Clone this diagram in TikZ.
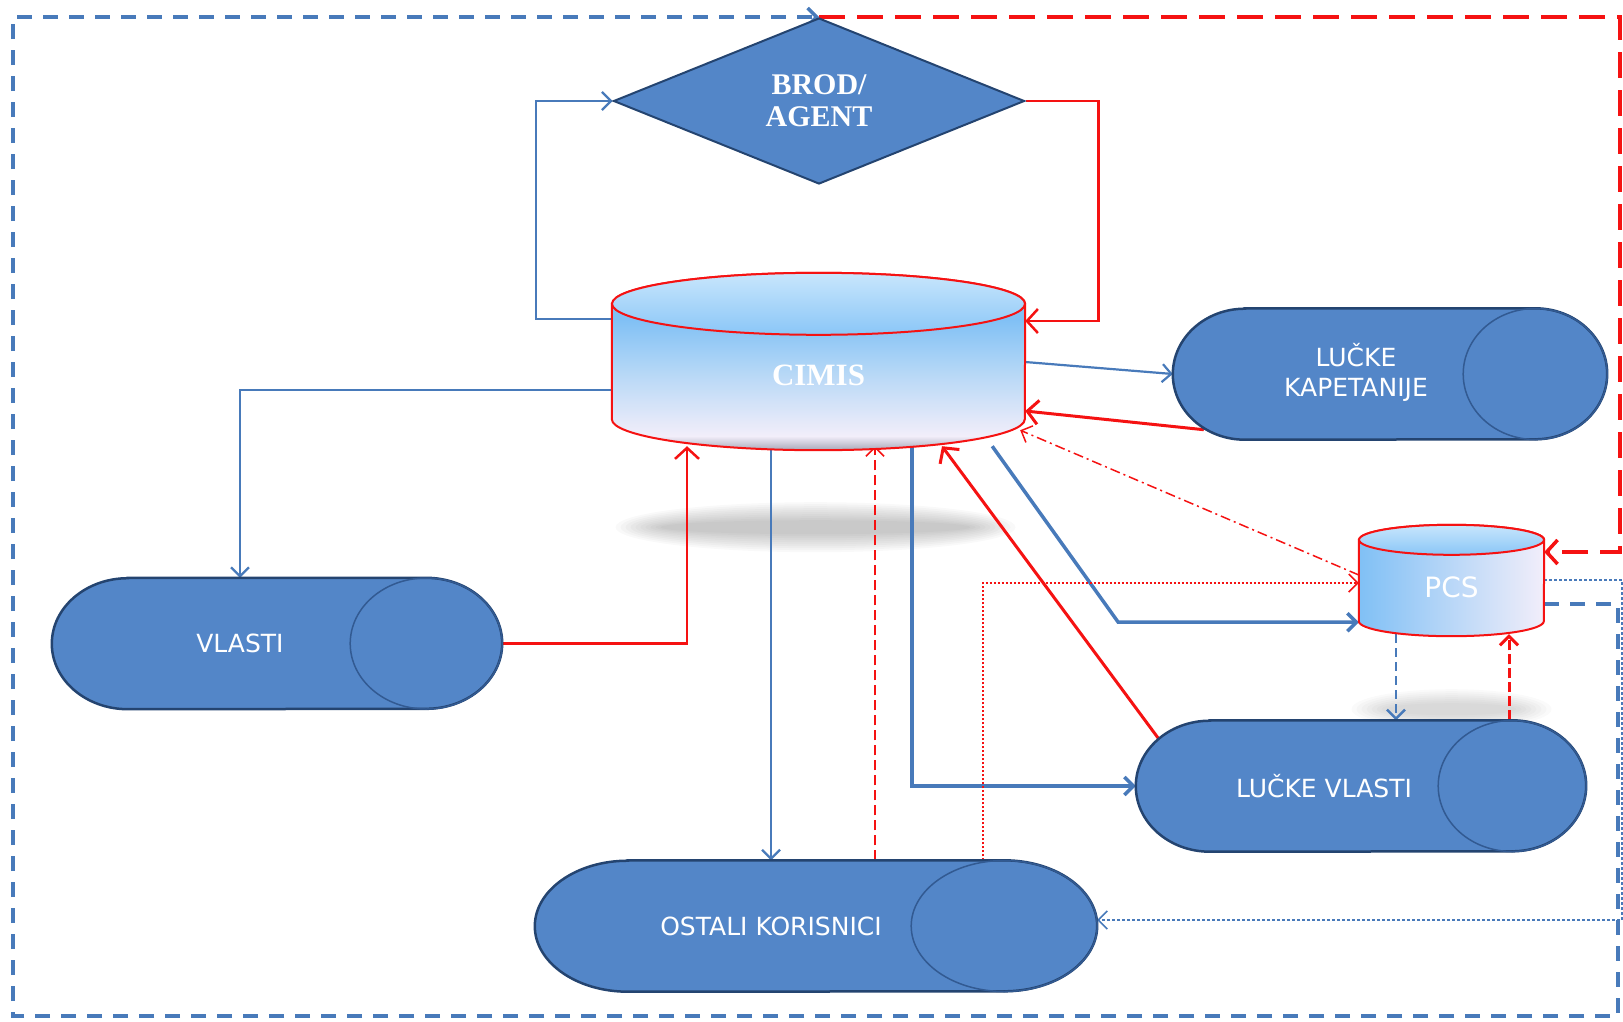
\documentclass[tikz,border=0pt]{standalone}
\usepackage{fontspec}
\setmainfont{Liberation Serif}
\setsansfont{DejaVu Sans}
\usetikzlibrary{shapes,calc,arrows.meta}

\definecolor{pillblue}{RGB}{83,134,200}
\definecolor{pilledge}{RGB}{36,68,112}
\definecolor{pillring}{RGB}{50,90,146}
\definecolor{lineblue}{RGB}{72,122,186}
\definecolor{redline}{RGB}{245,18,18}
\definecolor{cylhigh}{RGB}{128,192,245}
\definecolor{cylmid}{RGB}{178,214,246}
\definecolor{cyllow}{RGB}{242,238,250}
\definecolor{cylrim}{RGB}{168,168,184}
\definecolor{lid}{RGB}{138,198,247}
\definecolor{lidhi}{RGB}{200,230,252}

\pgfdeclareverticalshading{cimbody}{100bp}{color(0bp)=(cylrim); color(25bp)=(cylrim); color(29bp)=(cyllow); color(48bp)=(cylmid); color(62bp)=(cylhigh); color(100bp)=(cylhigh)}

\pgfdeclarelayer{shade}
\pgfdeclarelayer{edges}
\pgfdeclarelayer{bodies}
\pgfsetlayers{shade,edges,bodies,main}

\begin{document}
\begin{tikzpicture}[x=1pt, y=-1pt]
\tikzstyle{every node}=[inner sep=0pt, text=white];
\tikzstyle{box}=[shape=rectangle, font=\sffamily\fontsize{25}{30}\selectfont];
\tikzstyle{pillbody}=[fill=pillblue, draw=pilledge, line width=2.5pt];
\tikzstyle{pillline}=[draw=pillring, line width=1.5pt];
\tikzstyle{arr}=[-{Straight Barb[length=9pt,width=18pt]}];
\tikzstyle{bigarr}=[-{Straight Barb[length=11pt,width=24pt]}];
\tikzstyle{bthin}=[draw=lineblue, line width=2.2pt, arr];
\tikzstyle{bthick}=[draw=lineblue, line width=3.5pt, arr];
\tikzstyle{bdash}=[draw=lineblue, line width=2.5pt, dash pattern=on 9pt off 5pt, arr];
\tikzstyle{bframe}=[draw=lineblue, line width=3.5pt, dash pattern=on 15pt off 11pt, arr];
\tikzstyle{bdot}=[draw=lineblue, line width=1.5pt, dash pattern=on 3pt off 2pt, arr];
\tikzstyle{rthin}=[draw=redline, line width=2.5pt, bigarr];
\tikzstyle{rthick}=[draw=redline, line width=3pt, bigarr];
\tikzstyle{rdash}=[draw=redline, line width=1.5pt, dash pattern=on 10pt off 5pt, arr];
\tikzstyle{rdashb}=[draw=redline, line width=3pt, dash pattern=on 10pt off 4pt, arr];
\tikzstyle{rframe}=[draw=redline, line width=3.5pt, dash pattern=on 26pt off 12pt, bigarr];
\tikzstyle{rdot}=[draw=redline, line width=1.5pt, dash pattern=on 2.5pt off 1.5pt, arr];
\tikzstyle{rdashdot}=[draw=redline, line width=1.5pt, dash pattern=on 10pt off 4pt on 2pt off 4pt, arr];

\useasboundingbox (0,0) rectangle (1623,1021);

\node[shape=diamond, fill=pillblue, draw=pilledge, line width=2pt, minimum width=411pt, minimum height=166pt, align=center, font=\bfseries\fontsize{30}{32}\selectfont] (brod) at (819,101) {BROD/\\AGENT};
\node[box, minimum width=413pt, minimum height=142pt, font=\bfseries\fontsize{31}{34}\selectfont] (cimis) at (818.5,375) {CIMIS};
\node[box, minimum width=185pt, minimum height=94pt, font=\sffamily\fontsize{28}{30}\selectfont] (pcs) at (1451.5,587) {PCS};
\node[box, minimum width=434pt, minimum height=131pt] (kap) at (1390,374) {\begin{tabular}{@{}c@{}}LUČKE\\KAPETANIJE\end{tabular}\kern68pt};
\node[box, minimum width=450pt, minimum height=131pt] (vl) at (277,643.5) {VLASTI\kern74pt};
\node[box, minimum width=450pt, minimum height=131pt] (lv) at (1361,786) {LUČKE VLASTI\kern74pt};
\node[box, minimum width=562pt, minimum height=131pt] (ok) at (816,926) {OSTALI KORISNICI\kern90pt};

% soft shadows
\begin{pgfonlayer}{shade}
\foreach \i in {0,...,9}
  \fill[black, opacity=0.022] ($(cimis.south)+(-3,81)$) ellipse[x radius=200-5*\i, y radius=25-2*\i];
\foreach \i in {0,...,7}
  \fill[black, opacity=0.02] ($(pcs.south)+(0,75)$) ellipse[x radius=100-5*\i, y radius=20-2*\i];
\end{pgfonlayer}

% shape bodies
\begin{pgfonlayer}{bodies}
\foreach \n/\rx in {vl/76,kap/72,lv/74,ok/93} {
  \draw[pillbody] ($(\n.north west)+(\rx,0)$) -- ($(\n.north east)+(-\rx,0)$)
    arc[start angle=-90, end angle=90, x radius=\rx, y radius=65.5]
    -- ($(\n.south west)+(\rx,0)$)
    arc[start angle=90, end angle=270, x radius=\rx, y radius=65.5] -- cycle;
  \draw[pillline] ($(\n.east)+(-\rx,0)$) ellipse[x radius=\rx, y radius=65.5];
}
\shadedraw[shading=cimbody, draw=redline, line width=2pt] (cimis.north west) -- ($(cimis.south west)+(0,-27)$)
  arc[start angle=180, end angle=0, x radius=206.5, y radius=31] -- (cimis.north east)
  arc[start angle=0, end angle=-180, x radius=206.5, y radius=31] -- cycle;
\shadedraw[top color=lidhi, bottom color=lid, draw=redline, line width=2pt] (cimis.north) ellipse[x radius=206.5, y radius=31];
\shadedraw[left color=cylhigh, right color=cyllow, draw=redline, line width=2pt] (pcs.north west) -- ($(pcs.south west)+(0,-13)$)
  arc[start angle=180, end angle=0, x radius=92.5, y radius=15] -- (pcs.north east)
  arc[start angle=0, end angle=-180, x radius=92.5, y radius=15] -- cycle;
\shadedraw[top color=lidhi, bottom color=lid, draw=redline, line width=2pt] (pcs.north) ellipse[x radius=92.5, y radius=15];
\end{pgfonlayer}

% connectors
\begin{pgfonlayer}{edges}
\draw[bthin] ([yshift=56pt]cimis.west) -- ++(-76,0) |- (brod.west);
\draw[bthin] ([yshift=13pt]cimis.east) -- (kap.west);
\draw[bthin] ([yshift=-15pt]cimis.west) -| ([xshift=-37pt]vl.north);
\draw[bthin] ([xshift=-47.5pt]cimis.south) -- ([xshift=-45pt]ok.north);
\draw[bthick] ([xshift=93.5pt]cimis.south) |- (lv.west);
\draw[bthick] ([xshift=-33pt]cimis.south east) -- ++(126,176) -- ([yshift=12pt]pcs.south west);
\draw[bdash] ([xshift=-55.5pt]pcs.south) -- ([xshift=35pt]lv.north);
\draw[bdot] ([yshift=7pt]pcs.east) -- ++(78,0) |- ([yshift=6pt]ok.east);
\draw[bframe] ([yshift=-17pt]pcs.east) -- ++(74,0) -- ++(0,412) -- ++(-1605,0) |- (brod.north);
\draw[rthin] (brod.east) -- ++(73,0) |- ([yshift=54pt]cimis.east);
\draw[rthin] (vl.east) -| ([xshift=-131.5pt]cimis.south);
\draw[rthick] ([xshift=31pt,yshift=10pt]kap.south west) -- ([yshift=-36pt]cimis.east);
\draw[rthick] ([xshift=44pt,yshift=-47pt]lv.north west) -- ([xshift=123.5pt]cimis.south);
\draw[rdash] ([xshift=59pt]ok.north) -- ([xshift=56.5pt]cimis.south);
\draw[rdashb] ([xshift=148pt]lv.north) -- ([xshift=57.5pt]pcs.south);
\draw[rdot] ([xshift=167pt]ok.north) |- ([yshift=4pt]pcs.west);
\draw[rdashdot] ([yshift=12pt]pcs.west) -- ([xshift=-5pt,yshift=16pt]cimis.south east);
\draw[rframe] (brod.north) -- ++(801,0) |- ([yshift=35pt]pcs.east);
\end{pgfonlayer}
\end{tikzpicture}
\end{document}
